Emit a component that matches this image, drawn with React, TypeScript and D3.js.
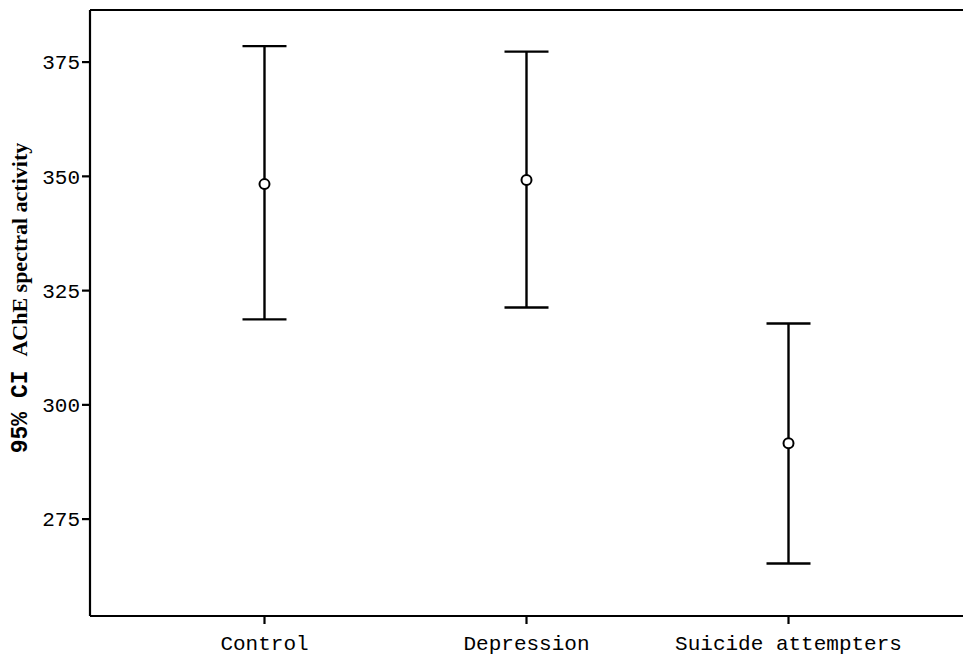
import React from "react"
import * as d3 from "d3"

const groups = ["Control", "Depression", "Suicide attempters"]
const means = [348.3, 349.2, 291.6]
const lowerCI = [318.7, 321.3, 265.3]
const upperCI = [378.5, 377.3, 317.8]
const yTicks = [275, 300, 325, 350, 375]

const W = 963
const H = 655
const left = 90
const top = 10
const bottom = 616

export default function App() {
  const x = d3.scalePoint<string>().domain(groups).range([left, W]).padding(0.666)
  const y = d3.scaleLinear().domain([253.8, 386.4]).range([bottom, top])
  const capHalf = 22

  return (
    <svg
      width={W}
      height={H}
      style={{ position: "absolute", left: 0, top: 0, background: "#fff" }}
    >
      {/* frame: left, top and bottom lines only */}
      <line x1={left} x2={W} y1={top} y2={top} stroke="#000" strokeWidth={2.2} />
      <line x1={left} x2={W} y1={bottom} y2={bottom} stroke="#000" strokeWidth={2.2} />
      <line x1={left} x2={left} y1={top} y2={bottom} stroke="#000" strokeWidth={2.2} />

      {yTicks.map((t) => (
        <g key={t} transform={`translate(0,${y(t)})`}>
          <line x1={left - 8} x2={left} stroke="#000" strokeWidth={2.2} />
          <text
            x={left - 10}
            dy="0.35em"
            textAnchor="end"
            fontFamily="Liberation Mono, monospace"
            fontSize={21}
            fill="#000"
          >
            {t}
          </text>
        </g>
      ))}

      {groups.map((g) => (
        <g key={g} transform={`translate(${x(g)},0)`}>
          <line y1={bottom} y2={bottom + 8} stroke="#000" strokeWidth={2.2} />
          <text
            y={650}
            textAnchor="middle"
            fontFamily="Liberation Mono, monospace"
            fontSize={21}
            fill="#000"
          >
            {g}
          </text>
        </g>
      ))}

      {groups.map((g, i) => {
        const cx = x(g)!
        return (
          <g key={"e" + g} stroke="#000" strokeWidth={2.4} fill="none">
            <line x1={cx} x2={cx} y1={y(upperCI[i])} y2={y(lowerCI[i])} />
            <line x1={cx - capHalf} x2={cx + capHalf} y1={y(upperCI[i])} y2={y(upperCI[i])} />
            <line x1={cx - capHalf} x2={cx + capHalf} y1={y(lowerCI[i])} y2={y(lowerCI[i])} />
            <circle cx={cx} cy={y(means[i])} r={5} fill="#fff" strokeWidth={2} />
          </g>
        )
      })}

      <text
        transform="translate(27,298) rotate(-90)"
        textAnchor="middle"
        fill="#000"
        fontWeight="bold"
      >
        <tspan fontFamily="Liberation Mono, monospace" fontSize={23}>
          {"95%\u00a0CI\u00a0"}
        </tspan>
        <tspan fontFamily="Liberation Serif, serif" fontSize={22}>
          AChE spectral activity
        </tspan>
      </text>
    </svg>
  )
}
